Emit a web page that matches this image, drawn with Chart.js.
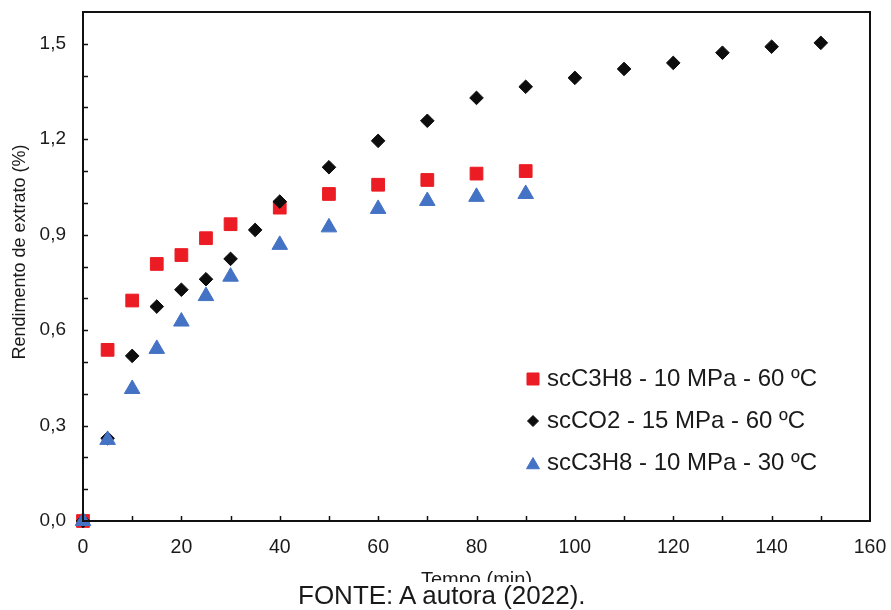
<!DOCTYPE html>
<html>
<head>
<meta charset="utf-8">
<script src="https://cdn.jsdelivr.net/npm/chart.js@4.4.1/dist/chart.umd.min.js"></script>
<style>
  html, body { margin: 0; padding: 0; background: #fff; }
  #wrap { position: relative; width: 891px; height: 610px; overflow: hidden; }
  #c { position: absolute; left: 0; top: 0; }
  #fonte { position: absolute; left: 0; top: 582px; width: 891px; height: 28px; background: #fff;
    font-family: "Liberation Sans", Arial, sans-serif; font-size: 26px; line-height: 26px; color: #1a1a1a;
    padding-left: 298px; box-sizing: border-box; white-space: nowrap; }
</style>
</head>
<body>
<div id="wrap">
  <canvas id="c" width="891" height="610"></canvas>
  <div id="fonte">FONTE: A autora (2022).</div>
</div>
<script>
// ---- data ----
const seriesLabels = ["scC3H8 - 10 MPa - 60 ºC", "scCO2 - 15 MPa - 60 ºC", "scC3H8 - 10 MPa - 30 ºC"];
const timeC3H8_60 = [0, 5, 10, 15, 20, 25, 30, 40, 50, 60, 70, 80, 90];
const yieldC3H8_60 = [0, 0.538, 0.693, 0.808, 0.836, 0.889, 0.933, 0.985, 1.028, 1.057, 1.072, 1.092, 1.100];
const timeCO2_60 = [0, 5, 10, 15, 20, 25, 30, 35, 40, 50, 60, 70, 80, 90, 100, 110, 120, 130, 140, 150];
const yieldCO2_60 = [0, 0.26, 0.519, 0.674, 0.727, 0.760, 0.824, 0.915, 1.004, 1.112, 1.195, 1.258, 1.330, 1.365, 1.393, 1.421, 1.440, 1.472, 1.491, 1.503];
const timeC3H8_30 = [0, 5, 10, 15, 20, 25, 30, 40, 50, 60, 70, 80, 90];
const yieldC3H8_30 = [0, 0.255, 0.415, 0.541, 0.627, 0.707, 0.768, 0.868, 0.923, 0.981, 1.006, 1.019, 1.028];
const xTickValues = [0, 20, 40, 60, 80, 100, 120, 140, 160];
const yTickValues = [0.0, 0.3, 0.6, 0.9, 1.2, 1.5];
const yTitle = 'Rendimento de extrato (%)';

const toPts = (xs, ys) => xs.map((x, i) => ({x: x, y: ys[i]}));

const FONT = '"Liberation Sans", Arial, sans-serif';
const TXT = '#1a1a1a';

const styles = [
  {color: '#EC1C24', pointStyle: 'rect', radius: 9, legendRadius: 8.5, order: 3},
  {color: '#0d0d0d', pointStyle: 'rectRot', radius: 6.8, legendRadius: 5.5, order: 2},
  {color: '#4472C4', pointStyle: 'triangle', radius: 9, legendRadius: 7.5, order: 1}
];
const dataSets = [toPts(timeC3H8_60, yieldC3H8_60), toPts(timeCO2_60, yieldCO2_60), toPts(timeC3H8_30, yieldC3H8_30)];

const datasets = dataSets.map((d, i) => ({
  label: seriesLabels[i],
  data: d,
  showLine: false,
  pointStyle: styles[i].pointStyle,
  pointRadius: styles[i].radius,
  pointHoverRadius: styles[i].radius,
  pointBackgroundColor: styles[i].color,
  pointBorderColor: styles[i].color,
  pointBorderWidth: 1,
  backgroundColor: styles[i].color,
  borderColor: styles[i].color,
  order: styles[i].order,
  clip: false
}));

// frame, inward tick marks, y title and in-plot legend
const framePlugin = {
  id: 'framePlugin',
  afterDatasetsDraw(chart) {
    const {ctx, chartArea: a, scales} = chart;
    ctx.save();
    ctx.strokeStyle = '#111';
    ctx.lineWidth = 1.5;
    ctx.beginPath();
    scales.x.ticks.forEach(t => {
      const px = Math.round(scales.x.getPixelForValue(t.value)) + 0.5;
      if (t.value > 0 && t.value < 160) { ctx.moveTo(px, a.bottom); ctx.lineTo(px, a.bottom - 5); }
    });
    scales.y.ticks.forEach(t => {
      const py = Math.round(scales.y.getPixelForValue(t.value)) + 0.5;
      if (t.value > 0.01 && t.value < 1.59) { ctx.moveTo(a.left, py); ctx.lineTo(a.left + 5, py); }
    });
    ctx.stroke();
    ctx.lineWidth = 2;
    ctx.strokeRect(a.left, a.top, a.right - a.left, a.bottom - a.top);
    ctx.restore();
  },
  afterDraw(chart) {
    const {ctx} = chart;
    // y axis title
    ctx.save();
    ctx.translate(20, 252);
    ctx.rotate(-Math.PI / 2);
    ctx.fillStyle = TXT;
    ctx.font = '18px ' + FONT;
    ctx.textAlign = 'center';
    ctx.textBaseline = 'middle';
    ctx.fillText(yTitle, 0, 0);
    ctx.restore();
    // legend
    const lx = 533, ty = [379, 421, 463], tx = 547;
    ctx.save();
    chart.data.datasets.forEach((ds, i) => {
      const s = styles[i];
      ctx.fillStyle = s.color;
      ctx.strokeStyle = s.color;
      ctx.lineWidth = 1;
      const yOff = s.pointStyle === 'triangle' ? 2 : 0;
      Chart.helpers.drawPoint(ctx, {pointStyle: s.pointStyle, radius: s.legendRadius, rotation: 0, borderWidth: 1}, lx, ty[i] + yOff);
      ctx.fillStyle = TXT;
      ctx.font = '24px ' + FONT;
      ctx.textBaseline = 'middle';
      ctx.textAlign = 'left';
      ctx.fillText(ds.label, tx, ty[i]);
    });
    ctx.restore();
  }
};

new Chart(document.getElementById('c'), {
  type: 'scatter',
  data: {datasets},
  options: {
    responsive: false,
    animation: false,
    devicePixelRatio: 1,
    layout: {padding: {left: 0, right: 21, top: 12, bottom: 0}},
    plugins: {legend: {display: false}, tooltip: {enabled: false}},
    scales: {
      x: {
        type: 'linear', min: 0, max: 160,
        afterFit(s) { s.height = 89; s.paddingLeft = 0; s.paddingRight = 0; },
        ticks: {
          stepSize: 10, autoSkip: false, maxRotation: 0,
          padding: 15, color: TXT, font: {family: FONT, size: 19.5},
          callback: v => (xTickValues.includes(v) ? String(v) : '')
        },
        grid: {display: true, drawOnChartArea: false, drawTicks: false},
        border: {display: false},
        title: {display: true, text: 'Tempo (min)', color: TXT, font: {family: FONT, size: 20}, padding: {top: 0, bottom: 18}}
      },
      y: {
        type: 'linear', min: 0, max: 1.6,
        afterFit(s) { s.width = 83; s.paddingTop = 0; s.paddingBottom = 0; },
        ticks: {
          stepSize: 0.1, autoSkip: false,
          padding: 17, color: TXT, font: {family: FONT, size: 19},
          callback: v => {
            const r = Math.round(v * 10) / 10;
            return yTickValues.some(t => Math.abs(t - r) < 1e-6) ? r.toFixed(1).replace('.', ',') : '';
          }
        },
        grid: {display: true, drawOnChartArea: false, drawTicks: false},
        border: {display: false},
        title: {display: false}
      }
    }
  },
  plugins: [framePlugin]
});
</script>
</body>
</html>
